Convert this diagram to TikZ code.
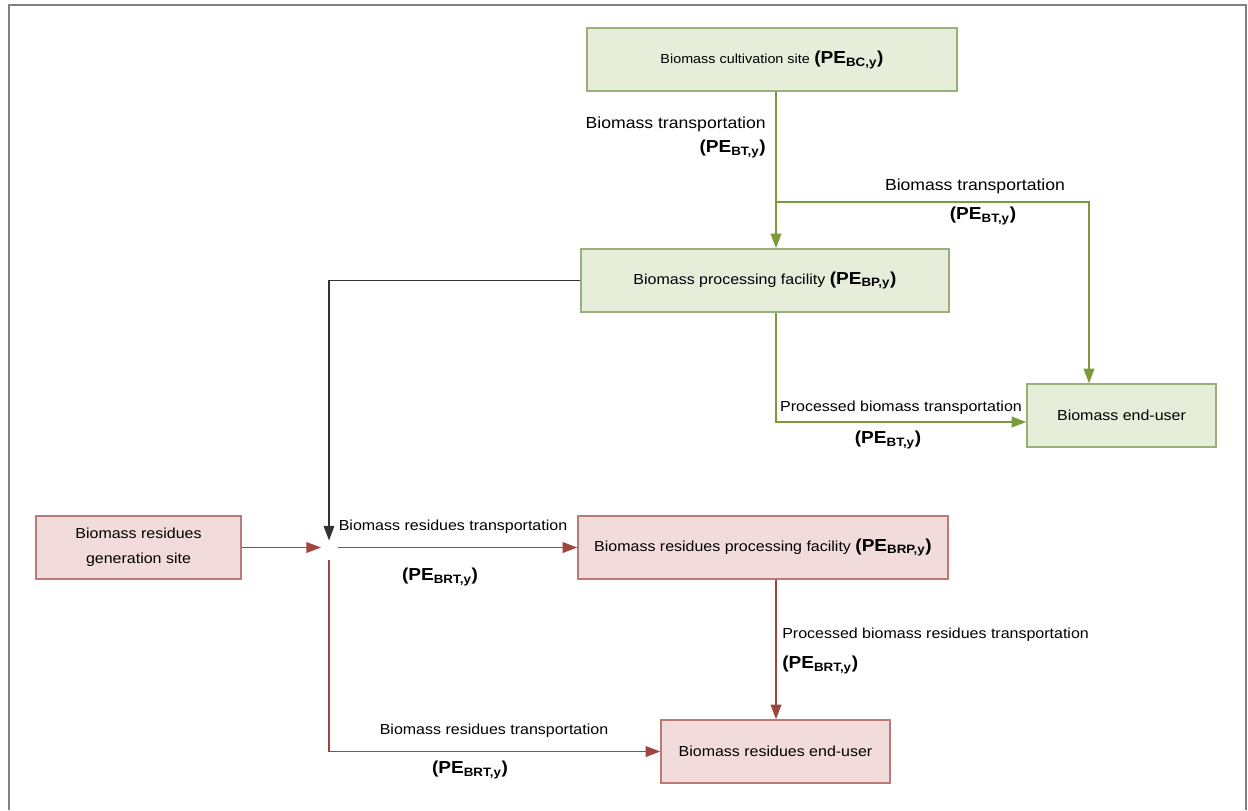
\documentclass[tikz,border=0pt]{standalone}
\usepackage{fontspec}
\setmainfont{Liberation Sans}[FakeStretch=1.1]
\usetikzlibrary{arrows.meta}
\usetikzlibrary{positioning}
\usetikzlibrary{calc}

\definecolor{gfill}{HTML}{E6EED9}
\definecolor{gborder}{HTML}{9AAF79}
\definecolor{gline}{HTML}{7A9A3C}
\definecolor{rfill}{HTML}{F2DCDB}
\definecolor{rborder}{HTML}{B97A78}
\definecolor{rline}{HTML}{A0443F}
\definecolor{kline}{HTML}{333333}
\definecolor{framegray}{HTML}{808080}

\newcommand{\pe}[1]{{\fontsize{13}{15}\selectfont\bfseries (PE\textsubscript{#1})}}

\begin{document}
\begin{tikzpicture}[x=0.75pt,y=-0.75pt,
    font=\fontsize{10.9}{13}\selectfont,
    gbox/.style={draw=gborder, fill=gfill, line width=1.1pt, minimum height=47.25pt, align=center},
    rbox/.style={draw=rborder, fill=rfill, line width=1.1pt, minimum height=47.25pt, align=center},
    gflow/.style={draw=gline, line width=1.2pt},
    rflow/.style={draw=rline, line width=1.2pt},
    kflow/.style={draw=kline, line width=1.1pt},
    tip/.style={-{Triangle[length=11pt,width=8pt]}},
    lbl/.style={inner sep=0pt}]
\useasboundingbox (0,0) rectangle (1248,810);
\draw[framegray, line width=1.5pt] (9,810) -- (9,5) -- (1246,5) -- (1246,810);

% biomass chain
\node[gbox, minimum width=277.5pt] (cult) at (772,59.5) {{\fontsize{9.8}{12}\selectfont Biomass cultivation site} \pe{BC,y}};
\node[gbox, minimum width=276pt] (proc) at (765,280.5) {Biomass processing facility \pe{BP,y}};
\node[gbox, minimum width=141.75pt] (eu) at (1121.5,415.5) {Biomass end-user};

% residues chain
\node[rbox, minimum width=153.75pt] (gen) at (138.5,547.5) {Biomass residues\\[6pt]generation site};
\node[rbox, minimum width=277.5pt] (rproc) at (763,547.5) {Biomass residues processing facility \pe{BRP,y}};
\node[rbox, minimum width=171.75pt] (ruser) at (775.5,751.5) {Biomass residues end-user};

\coordinate (gx) at (776,0);
\coordinate (split) at (776,202);
\coordinate (bx) at (1089,202);
\coordinate (py) at (0,422);
\coordinate (hub) at (329,547.5);

\draw[gflow] (cult.south -| gx) -- (split);
\draw[gflow, tip] (split) -- (proc.north -| gx);
\draw[gflow, tip] (split) -- (bx) -- (eu.north -| bx);
\draw[gflow, tip] (proc.south -| gx) -- (gx |- py) -- (eu.west |- py);

\draw[kflow, tip] (proc.west) -| ($(hub)+(0,-7)$);
\draw[rflow, tip] (gen.east) -- ($(hub)+(-8,0)$);
\draw[rflow, tip] ($(hub)+(9,0)$) -- (rproc.west);
\draw[rflow, tip] ($(hub)+(0,12)$) |- (ruser.west);
\draw[rflow, tip] (rproc.south -| gx) -- (ruser.north -| gx);

% flow labels
\node[lbl, anchor=east, font=\fontsize{12}{14}\selectfont] (t1) at (766,124) {Biomass transportation};
\node[lbl, anchor=east] (t1pe) at (766,149) {\pe{BT,y}};
\node[lbl, font=\fontsize{12}{14}\selectfont] (t2) at (975,186) {Biomass transportation};
\node[lbl] (t2pe) at (983,216) {\pe{BT,y}};
\node[lbl] (t3) at (901,408) {Processed biomass transportation};
\node[lbl] (t3pe) at (888,440) {\pe{BT,y}};
\node[lbl] (t4) at (453,527) {Biomass residues transportation};
\node[lbl] (t4pe) at (440,577) {\pe{BRT,y}};
\node[lbl, anchor=west] (t5) at (782,635) {Processed biomass residues transportation};
\node[lbl, anchor=west] (t5pe) at (782,665) {\pe{BRT,y}};
\node[lbl] (t6) at (494,731) {Biomass residues transportation};
\node[lbl] (t6pe) at (470,770) {\pe{BRT,y}};
\end{tikzpicture}
\end{document}
